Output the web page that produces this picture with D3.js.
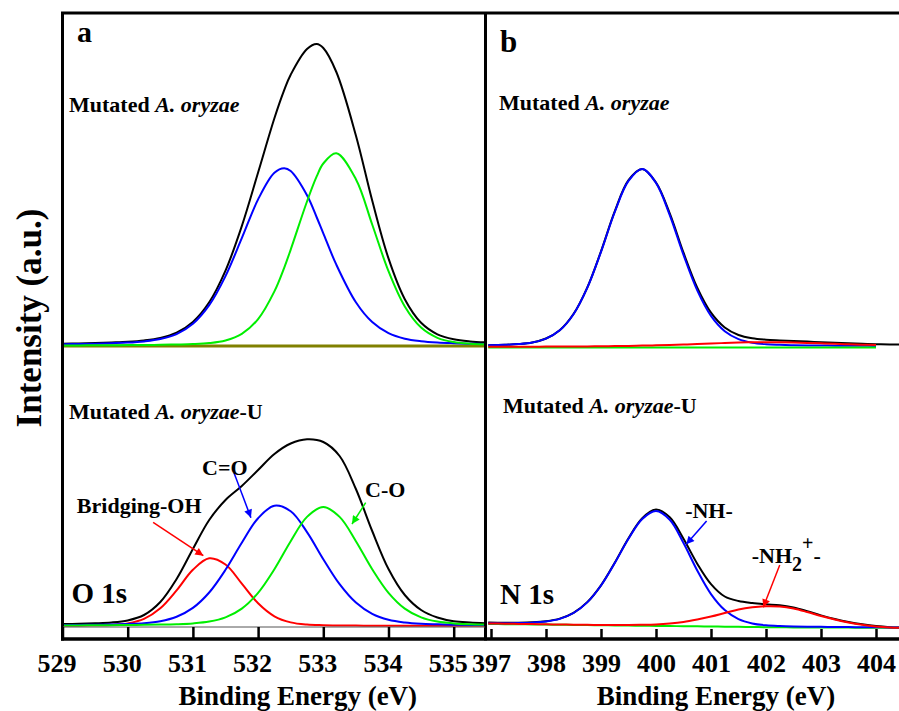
<!DOCTYPE html>
<html>
<head>
<meta charset="utf-8">
<script src="https://cdn.jsdelivr.net/npm/d3@7"></script>
<style>
  body { margin: 0; background: #fff; }
  svg text { font-family: "Liberation Serif", "Times New Roman", serif; font-weight: bold; fill: #000; }
</style>
</head>
<body>
<svg id="chart" width="899" height="711"></svg>
<script>
// ---- O 1s (panel a) ----
const oTopE = [529, 529.25, 529.5, 529.75, 530, 530.25, 530.5, 530.75, 531, 531.25, 531.5, 531.75, 532, 532.25, 532.4, 532.5, 532.75, 532.9, 533, 533.2, 533.5, 533.75, 534, 534.25, 534.5, 534.75, 535, 535.25, 535.5];
const oTopBlack = [2.2, 2.6, 3.0, 3.6, 4.3, 5.6, 8.1, 13.4, 24.1, 43.7, 75.4, 119.9, 173.5, 227.8, 255.9, 271.3, 297, 302, 298, 274.0, 210.5, 145.4, 87.6, 46.8, 23.2, 11.7, 6.7, 4.6, 3.7];
const oTopBlue = [1.7, 2.0, 2.3, 2.8, 3.4, 4.6, 6.9, 11.9, 22.2, 40.8, 69.9, 107.8, 146.6, 173.2, 177.7, 174.9, 150.7, 128.5, 112.6, 81.3, 43.7, 23.9, 12.8, 7.3, 4.8, 3.5, 2.8, 2.3, 2.0];
const oTopGreen = [0.5, 0.6, 0.7, 0.8, 0.9, 1.0, 1.2, 1.5, 1.9, 2.9, 5.5, 12.1, 26.9, 54.6, 78.2, 96.4, 144.5, 169.8, 182.5, 192.7, 166.8, 121.5, 74.8, 39.5, 18.4, 8.2, 3.9, 2.3, 1.7];
const oTopBase = oTopE.map(() => 0);

const oBotE = [529, 529.25, 529.5, 529.75, 530, 530.25, 530.5, 530.75, 531, 531.25, 531.5, 531.75, 532, 532.25, 532.5, 532.75, 533, 533.25, 533.5, 533.75, 534, 534.25, 534.5, 534.75, 535, 535.25, 535.5];
const oBotBlack = [1.9, 2.2, 2.7, 3.5, 5.6, 11, 24, 47, 77, 106, 126, 140, 156, 172, 182.5, 186.7, 184, 170, 137, 95, 57, 31, 16, 8.5, 4.8, 3.5, 2.8];
const oBotRed = [0.4, 0.5, 0.7, 1.1, 2.6, 7.1, 17.7, 35.6, 56.2, 67.7, 61.5, 42.4, 22.7, 9.7, 3.6, 1.4, 0.8, 0.5, 0.4, 0.3, 0.3, 0.2, 0.2, 0.2, 0.2, 0.2, 0.2];
const oBotBlue = [0.9, 1.1, 1.3, 1.5, 2.0, 2.8, 4.8, 9.3, 18.1, 33.5, 56.2, 83.2, 107.8, 120.3, 114.7, 93.9, 66.8, 41.8, 23.4, 12.1, 6.2, 3.5, 2.2, 1.7, 1.3, 1.1, 1.0];
const oBotGreen = [0.6, 0.6, 0.7, 0.85, 1.0, 1.2, 1.4, 1.8, 2.6, 4.4, 8.6, 17.4, 33.2, 56.8, 84.8, 109.1, 119.0, 109.1, 84.8, 56.8, 33.2, 17.4, 8.6, 4.4, 2.6, 1.8, 1.4];

// ---- N 1s (panel b) ----
const nE = [396.95, 397.25, 397.5, 397.75, 398, 398.25, 398.5, 398.75, 399, 399.25, 399.5, 399.75, 400, 400.25, 400.5, 400.75, 401, 401.25, 401.5, 401.75, 402, 402.25, 402.5, 402.75, 403, 403.25, 403.5, 403.75, 404, 404.25, 404.42];
const nTopBlack = [2.3, 2.7, 3.4, 5.0, 9.0, 17.3, 33.5, 59.9, 96.1, 136.1, 167.4, 178.6, 165.0, 134.2, 94.8, 59.8, 34.8, 20.0, 12.5, 9.2, 7.8, 7.1, 6.5, 5.9, 5.35, 4.75, 4.15, 3.7, 3.3, 3.1, 3.0];
const nTopBlue = [2.3, 2.7, 3.4, 5.0, 8.9, 17.2, 33.3, 59.6, 95.7, 135.5, 166.6, 178.5, 164.6, 132.4, 92.6, 57.1, 31.6, 16.3, 8.4, 4.8, 3.3, 2.7, 2.3, 2.1, 1.95, 1.85, 1.75, 1.7, 1.6, null, null];
const nTopRed = [0.8, 0.8, 0.8, 0.8, 0.9, 0.9, 1.0, 1.1, 1.2, 1.4, 1.6, 1.9, 2.2, 2.6, 3.0, 3.5, 4.0, 4.5, 4.9, 5.2, 5.3, 5.2, 5.0, 4.6, 4.2, 3.7, 3.2, 2.8, 2.5, null, null];
const nTopGreen = [0, 0, 0, 0, 0, 0, 0, 0, 0, 0, 0, 0, 0, 0, 0, 0, 0, 0, 0, 0, 0, 0, 0, 0, 0, 0, 0, 0, 0, null, null];

const nBotBlack = [3.4, 3.25, 3.3, 3.7, 4.8, 7.4, 13.2, 23.85, 40.7, 63.3, 87.8, 107.9, 116.5, 108.7, 87.2, 62.3, 41.9, 29.5, 25.0, 23.0, 21.7, 20.7, 18.4, 14.75, 10.65, 7.05, 4.0, 1.65, -0.1, -1.15, -1.45];
const nBotBlue = [2.8, 2.75, 2.9, 3.35, 4.5, 7.15, 13.0, 23.65, 40.5, 62.9, 87.2, 107.0, 115.0, 106.2, 83.0, 55.5, 31.9, 15.9, 6.9, 2.6, 0.7, -0.1, -0.5, -0.7, -0.85, -1.0, -1.1, -1.2, -1.3, -1.4, -1.45];
const nBotRed = [2.6, 2.35, 2.1, 1.9, 1.7, 1.5, 1.3, 1.15, 1.0, 1.0, 1.0, 1.2, 1.6, 2.5, 4.0, 6.5, 9.5, 13.0, 16.5, 18.7, 19.8, 19.5, 17.5, 14.0, 10.0, 6.5, 3.5, 1.2, -0.5, -1.5, -1.8];
const nBotGreen = [2.0, 1.85, 1.7, 1.55, 1.4, 1.25, 1.1, 0.95, 0.8, 0.6, 0.4, 0.25, 0.1, -0.05, -0.2, -0.35, -0.5, -0.65, -0.8, -1.0, -1.2, -1.3, -1.4, -1.45, -1.5, -1.55, -1.6, -1.65, -1.7, -1.75, -1.8];

const oTicks = [529, 530, 531, 532, 533, 534, 535];
const nTicks = [397, 398, 399, 400, 401, 402, 403, 404];

// vertical offsets of the upper spectra (a.u.)
const topOffsetO = 280, topOffsetN = 278.5;

// arrows in eV / a.u. (lower spectra)
const oArrows = [
  {from: [530.39, 103.7], to: [531.16, 70.3], color: "#ff0000"},
  {from: [531.63, 153.3], to: [531.89, 108.3], color: "#0000ff"},
  {from: [533.65, 123.3], to: [533.44, 102.0], color: "#00ee00"}
];
const nArrows = [
  {from: [400.92, 105.0], to: [400.55, 81.7], color: "#0000ff"},
  {from: [402.25, 61.0], to: [401.95, 18.7], color: "#ff0000"}
];

const svg = d3.select("#chart");
const xO = d3.scaleLinear().domain([529, 535]).range([62.5, 453.7]);
const xN = d3.scaleLinear().domain([397, 404]).range([491, 876]);
const y = d3.scaleLinear().domain([0, 613]).range([626, 13]);

const defs = svg.append("defs");
defs.append("clipPath").attr("id", "clipO").append("rect")
  .attr("x", 62.5).attr("y", 0).attr("width", 485 - 62.5).attr("height", 711);
defs.append("clipPath").attr("id", "clipN").append("rect")
  .attr("x", 486).attr("y", 0).attr("width", 899 - 486).attr("height", 711);

["#ff0000", "#0000ff", "#00ee00"].forEach((c, i) => {
  defs.append("marker")
    .attr("id", "arr" + i)
    .attr("viewBox", "0 0 10 10")
    .attr("refX", 10).attr("refY", 5)
    .attr("markerWidth", 11).attr("markerHeight", 8)
    .attr("markerUnits", "userSpaceOnUse")
    .attr("orient", "auto")
    .append("path").attr("d", "M0,0 L10,5 L0,10 z").attr("fill", c);
});
const markerFor = { "#ff0000": "url(#arr0)", "#0000ff": "url(#arr1)", "#00ee00": "url(#arr2)" };

function drawLine(g, xs, es, vals, offset, color, width) {
  const pts = es.map((e, i) => [e, vals[i]]);
  const line = d3.line()
    .defined(d => d[1] !== null)
    .x(d => xs(d[0]))
    .y(d => y(d[1] + offset))
    .curve(d3.curveCatmullRom.alpha(0.5));
  g.append("path")
    .datum(pts)
    .attr("fill", "none")
    .attr("stroke", color)
    .attr("stroke-width", width)
    .attr("stroke-linejoin", "round")
    .attr("d", line);
}

const gO = svg.append("g").attr("clip-path", "url(#clipO)");
const gN = svg.append("g").attr("clip-path", "url(#clipN)");

// upper O 1s
drawLine(gO, xO, oTopE, oTopBase, topOffsetO, "#808000", 3);
drawLine(gO, xO, oTopE, oTopBlack, topOffsetO, "#000", 2);
drawLine(gO, xO, oTopE, oTopBlue, topOffsetO, "#0000ff", 2);
drawLine(gO, xO, oTopE, oTopGreen, topOffsetO, "#00ee00", 2);
// lower O 1s
drawLine(gO, xO, oBotE, oBotBlack, 0, "#000", 2);
drawLine(gO, xO, oBotE, oBotRed, 0, "#ff0000", 2);
drawLine(gO, xO, oBotE, oBotBlue, 0, "#0000ff", 2);
drawLine(gO, xO, oBotE, oBotGreen, 0, "#00ee00", 2);

// upper N 1s
drawLine(gN, xN, nE, nTopBlack, topOffsetN, "#000", 2);
drawLine(gN, xN, nE, nTopBlue, topOffsetN, "#0000ff", 2);
drawLine(gN, xN, nE, nTopGreen, topOffsetN, "#00ee00", 2);
drawLine(gN, xN, nE, nTopRed, topOffsetN, "#ff0000", 2);
// lower N 1s
drawLine(gN, xN, nE, nBotBlack, 0, "#000", 2);
drawLine(gN, xN, nE, nBotGreen, 0, "#00ee00", 2);
drawLine(gN, xN, nE, nBotBlue, 0, "#0000ff", 2);
drawLine(gN, xN, nE, nBotRed, 0, "#ff0000", 2);

// arrows
function drawArrows(list, xs) {
  list.forEach(a => {
    svg.append("line")
      .attr("x1", xs(a.from[0])).attr("y1", y(a.from[1]))
      .attr("x2", xs(a.to[0])).attr("y2", y(a.to[1]))
      .attr("stroke", a.color).attr("stroke-width", 1.5)
      .attr("marker-end", markerFor[a.color]);
  });
}
drawArrows(oArrows, xO);
drawArrows(nArrows, xN);

// frame
const axisY = 639;
svg.append("line").attr("x1", 62.5).attr("x2", 62.5).attr("y1", 12).attr("y2", axisY + 1.5)
  .attr("stroke", "#000").attr("stroke-width", 3);
svg.append("line").attr("x1", 61).attr("x2", 899).attr("y1", 13).attr("y2", 13)
  .attr("stroke", "#000").attr("stroke-width", 3);
svg.append("line").attr("x1", 485.5).attr("x2", 485.5).attr("y1", 12).attr("y2", axisY + 1.5)
  .attr("stroke", "#000").attr("stroke-width", 3);
svg.append("line").attr("x1", 63).attr("x2", 485).attr("y1", 627).attr("y2", 627)
  .attr("stroke", "#555").attr("stroke-width", 1);

// x axes
const axO = svg.append("g").attr("transform", `translate(0,${axisY})`)
  .call(d3.axisBottom(xO).tickValues(oTicks).tickSize(-12).tickPadding(15).tickFormat(d3.format("d")));
const axN = svg.append("g").attr("transform", `translate(0,${axisY})`)
  .call(d3.axisBottom(xN).tickValues(nTicks).tickSize(-10).tickPadding(15).tickFormat(d3.format("d")));
[axO, axN].forEach(ax => {
  ax.select(".domain").remove();
  ax.selectAll(".tick line").attr("stroke", "#000").attr("stroke-width", 2.5);
  ax.selectAll(".tick text").style("font-size", "26px").attr("fill", "#000");
});
axO.selectAll(".tick text").attr("dx", -6);
svg.append("line").attr("x1", 61).attr("x2", 899).attr("y1", axisY).attr("y2", axisY)
  .attr("stroke", "#000").attr("stroke-width", 3.5);

// axis titles
svg.append("text").attr("x", xO(532.61)).attr("y", 705).attr("text-anchor", "middle")
  .style("font-size", "27px").text("Binding Energy (eV)");
svg.append("text").attr("x", xN(401.09)).attr("y", 705).attr("text-anchor", "middle")
  .style("font-size", "27px").text("Binding Energy (eV)");
svg.append("text").attr("transform", "translate(41,318) rotate(-90)").attr("text-anchor", "middle")
  .style("font-size", "35px").text("Intensity (a.u.)");

// panel letters and sample labels
svg.append("text").attr("x", 77).attr("y", 42).style("font-size", "30px").text("a");
svg.append("text").attr("x", 500).attr("y", 51.5).style("font-size", "31px").text("b");

function sampleLabel(x, yy, suffix) {
  const t = svg.append("text").attr("x", x).attr("y", yy).style("font-size", "22px");
  t.append("tspan").text("Mutated ");
  t.append("tspan").style("font-style", "italic").text("A. oryzae");
  if (suffix) t.append("tspan").text(suffix);
}
sampleLabel(69, 111.7);
sampleLabel(499, 110);
sampleLabel(69, 419.3, "-U");
sampleLabel(503, 413.3, "-U");

svg.append("text").attr("x", 71.5).attr("y", 602.7).style("font-size", "29px").text("O 1s");
svg.append("text").attr("x", 500).attr("y", 604.3).style("font-size", "29px").text("N 1s");

// peak labels (positions in eV / a.u.)
svg.append("text").attr("x", xO(529.22)).attr("y", y(112.7)).style("font-size", "22px").text("Bridging-OH");
svg.append("text").attr("x", xO(531.14)).attr("y", y(151)).style("font-size", "22px").text("C=O");
svg.append("text").attr("x", xO(533.64)).attr("y", y(129.3)).style("font-size", "22px").text("C-O");
svg.append("text").attr("x", xN(400.53)).attr("y", y(108.3)).style("font-size", "22px").text("-NH-");
const nh2 = svg.append("text").attr("x", xN(401.74)).attr("y", y(62.7)).style("font-size", "22px");
nh2.append("tspan").text("-NH");
nh2.append("tspan").attr("dy", 8).style("font-size", "20px").text("2");
nh2.append("tspan").attr("dy", -21).style("font-size", "20px").text("+");
nh2.append("tspan").attr("dy", 13).text("-");
</script>
</body>
</html>
